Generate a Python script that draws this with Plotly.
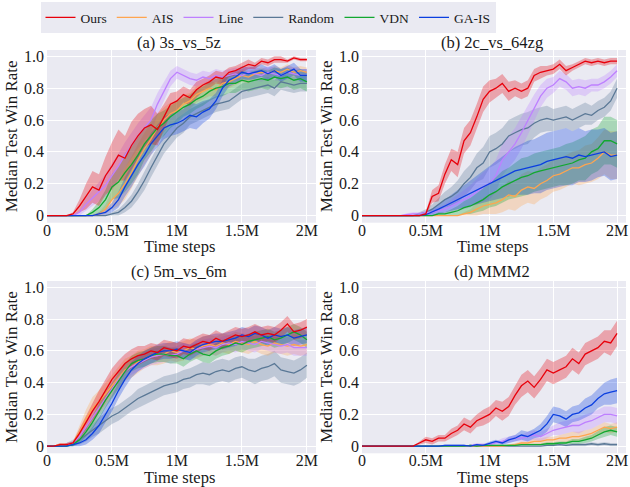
import plotly.graph_objects as go

# ---------------- data ----------------
STEPS_M = [0.0, 0.05, 0.1, 0.15, 0.2, 0.25, 0.3, 0.35, 0.4, 0.45,
           0.5, 0.55, 0.6, 0.65, 0.7, 0.75, 0.8, 0.85, 0.9, 0.95,
           1.0, 1.05, 1.1, 1.15, 1.2, 1.25, 1.3, 1.35, 1.4, 1.45,
           1.5, 1.55, 1.6, 1.65, 1.7, 1.75, 1.8, 1.85, 1.9, 1.95,
           2.0]

METHODS = ["Ours", "AIS", "Line", "Random", "VDN", "GA-IS"]
PANEL_TITLES = ["(a) 3s_vs_5z", "(b) 2c_vs_64zg", "(c) 5m_vs_6m", "(d) MMM2"]
X_TICK_VALS = [0, 0.5, 1, 1.5, 2]
X_TICK_TEXT = ["0", "0.5M", "1M", "1.5M", "2M"]
Y_TICK_VALS = [0, 0.2, 0.4, 0.6, 0.8, 1.0]
Y_TICK_TEXT = ["0", "0.2", "0.4", "0.6", "0.8", "1.0"]

# ---- (a) 3s_vs_5z ----
A_OURS = [0, 0, 0, 0, 0.01, 0.06, 0.12, 0.18, 0.16, 0.25,
          0.31, 0.38, 0.36, 0.44, 0.50, 0.55, 0.57, 0.54, 0.62, 0.70,
          0.72, 0.76, 0.74, 0.79, 0.82, 0.84, 0.87, 0.86, 0.90, 0.91,
          0.93, 0.95, 0.94, 0.97, 0.96, 0.98, 0.98, 0.97, 0.99, 0.98,
          0.98]
A_OURS_SD = [0, 0, 0, 0, 0.01, 0.04, 0.08, 0.10, 0.10, 0.12,
             0.15, 0.16, 0.14, 0.15, 0.14, 0.12, 0.12, 0.10, 0.08, 0.07,
             0.06, 0.05, 0.05, 0.05, 0.04, 0.04, 0.04, 0.04, 0.03, 0.03,
             0.03, 0.03, 0.02, 0.02, 0.02, 0.02, 0.02, 0.01, 0.01, 0.01,
             0.01]
A_AIS = [0, 0, 0, 0, 0, 0, 0, 0, 0.01, 0.04,
         0.10, 0.14, 0.20, 0.27, 0.35, 0.42, 0.48, 0.55, 0.60, 0.64,
         0.66, 0.70, 0.72, 0.76, 0.78, 0.80, 0.79, 0.83, 0.84, 0.86,
         0.88, 0.87, 0.89, 0.90, 0.89, 0.91, 0.90, 0.92, 0.90, 0.91,
         0.90]
A_AIS_SD = [0, 0, 0, 0, 0, 0, 0, 0, 0.01, 0.03,
            0.06, 0.08, 0.10, 0.10, 0.10, 0.10, 0.10, 0.09, 0.08, 0.07,
            0.06, 0.06, 0.05, 0.05, 0.05, 0.05, 0.04, 0.04, 0.04, 0.04,
            0.04, 0.04, 0.03, 0.03, 0.03, 0.03, 0.03, 0.03, 0.03, 0.03,
            0.03]
A_LINE = [0, 0, 0, 0, 0, 0.02, 0.07, 0.11, 0.15, 0.19,
          0.25, 0.31, 0.38, 0.44, 0.50, 0.55, 0.60, 0.70, 0.78, 0.86,
          0.90, 0.88, 0.86, 0.85, 0.87, 0.86, 0.88, 0.87, 0.88, 0.89,
          0.88, 0.90, 0.89, 0.88, 0.90, 0.89, 0.88, 0.90, 0.89, 0.88,
          0.88]
A_LINE_SD = [0, 0, 0, 0, 0, 0.02, 0.04, 0.05, 0.06, 0.07,
             0.08, 0.08, 0.08, 0.08, 0.08, 0.08, 0.08, 0.07, 0.06, 0.05,
             0.04, 0.04, 0.04, 0.04, 0.04, 0.04, 0.04, 0.04, 0.04, 0.04,
             0.04, 0.04, 0.04, 0.04, 0.04, 0.04, 0.04, 0.04, 0.04, 0.04,
             0.04]
A_RANDOM = [0, 0, 0, 0, 0, 0, 0, 0, 0, 0,
            0.01, 0.02, 0.05, 0.09, 0.15, 0.22, 0.30, 0.38, 0.45, 0.50,
            0.55, 0.58, 0.62, 0.64, 0.66, 0.68, 0.70, 0.71, 0.72, 0.75,
            0.78, 0.79, 0.80, 0.81, 0.82, 0.80, 0.84, 0.83, 0.82, 0.83,
            0.83]
A_RANDOM_SD = [0, 0, 0, 0, 0, 0, 0, 0, 0, 0,
               0.01, 0.02, 0.03, 0.04, 0.05, 0.06, 0.06, 0.06, 0.06, 0.06,
               0.06, 0.06, 0.05, 0.05, 0.05, 0.05, 0.05, 0.05, 0.05, 0.05,
               0.05, 0.05, 0.05, 0.05, 0.05, 0.05, 0.05, 0.05, 0.05, 0.05,
               0.05]
A_VDN = [0, 0, 0, 0, 0, 0, 0, 0.02, 0.05, 0.10,
         0.18, 0.21, 0.27, 0.32, 0.38, 0.45, 0.50, 0.55, 0.58, 0.62,
         0.65, 0.68, 0.70, 0.73, 0.75, 0.78, 0.80, 0.81, 0.83, 0.83,
         0.85, 0.84, 0.85, 0.86, 0.85, 0.87, 0.86, 0.87, 0.85, 0.86,
         0.84]
A_VDN_SD = [0, 0, 0, 0, 0, 0, 0, 0.02, 0.04, 0.06,
            0.08, 0.10, 0.12, 0.12, 0.12, 0.10, 0.10, 0.09, 0.08, 0.07,
            0.07, 0.06, 0.06, 0.06, 0.06, 0.06, 0.06, 0.06, 0.06, 0.06,
            0.06, 0.06, 0.06, 0.06, 0.06, 0.06, 0.06, 0.06, 0.06, 0.06,
            0.06]
A_GAIS = [0, 0, 0, 0, 0, 0, 0, 0, 0.01, 0.02,
          0.05, 0.10, 0.18, 0.25, 0.32, 0.38, 0.45, 0.50, 0.55, 0.57,
          0.58, 0.60, 0.63, 0.62, 0.65, 0.67, 0.72, 0.80, 0.85, 0.87,
          0.90, 0.89, 0.90, 0.91, 0.89, 0.91, 0.88, 0.90, 0.92, 0.88,
          0.88]
A_GAIS_SD = [0, 0, 0, 0, 0, 0, 0, 0, 0.01, 0.02,
             0.03, 0.05, 0.06, 0.07, 0.07, 0.07, 0.07, 0.07, 0.07, 0.07,
             0.07, 0.07, 0.08, 0.08, 0.07, 0.06, 0.05, 0.05, 0.04, 0.04,
             0.04, 0.04, 0.04, 0.04, 0.04, 0.04, 0.04, 0.04, 0.04, 0.04,
             0.04]

# ---- (b) 2c_vs_64zg ----
B_OURS = [0, 0, 0, 0, 0, 0, 0, 0, 0, 0,
          0.01, 0.12, 0.14, 0.26, 0.35, 0.32, 0.47, 0.52, 0.62, 0.73,
          0.78, 0.80, 0.83, 0.78, 0.80, 0.78, 0.80, 0.88, 0.90, 0.91,
          0.92, 0.95, 0.91, 0.93, 0.95, 0.97, 0.96, 0.97, 0.96, 0.97,
          0.97]
B_OURS_SD = [0, 0, 0, 0, 0, 0, 0, 0, 0, 0,
             0.01, 0.04, 0.05, 0.06, 0.07, 0.08, 0.08, 0.08, 0.08, 0.08,
             0.07, 0.06, 0.06, 0.06, 0.05, 0.05, 0.05, 0.04, 0.04, 0.03,
             0.03, 0.03, 0.03, 0.02, 0.02, 0.02, 0.02, 0.02, 0.02, 0.02,
             0.02]
B_AIS = [0, 0, 0, 0, 0, 0, 0, 0, 0, 0,
         0, 0, 0, 0, 0, 0, 0.01, 0.02, 0.04, 0.06,
         0.07, 0.08, 0.10, 0.13, 0.12, 0.16, 0.18, 0.17, 0.20, 0.22,
         0.25, 0.26, 0.28, 0.30, 0.30, 0.32, 0.33, 0.36, 0.40, 0.38,
         0.38]
B_AIS_SD = [0, 0, 0, 0, 0, 0, 0, 0, 0, 0,
            0, 0, 0, 0, 0, 0, 0.01, 0.02, 0.04, 0.05,
            0.06, 0.07, 0.08, 0.09, 0.09, 0.10, 0.10, 0.10, 0.10, 0.10,
            0.10, 0.10, 0.10, 0.10, 0.11, 0.12, 0.12, 0.13, 0.14, 0.15,
            0.15]
B_LINE = [0, 0, 0, 0, 0, 0, 0, 0.005, 0.01, 0.01,
          0.02, 0.02, 0.03, 0.04, 0.06, 0.08, 0.10, 0.12, 0.15, 0.18,
          0.20, 0.25, 0.35, 0.40, 0.45, 0.52, 0.60, 0.68, 0.75, 0.80,
          0.82, 0.86, 0.84, 0.80, 0.81, 0.80, 0.82, 0.82, 0.84, 0.87,
          0.91]
B_LINE_SD = [0, 0, 0, 0, 0, 0, 0, 0.01, 0.01, 0.01,
             0.01, 0.02, 0.02, 0.03, 0.04, 0.05, 0.06, 0.07, 0.08, 0.09,
             0.10, 0.10, 0.10, 0.10, 0.10, 0.10, 0.09, 0.08, 0.07, 0.06,
             0.05, 0.05, 0.05, 0.05, 0.05, 0.05, 0.04, 0.04, 0.04, 0.04,
             0.04]
B_RANDOM = [0, 0, 0, 0, 0, 0, 0, 0, 0, 0.01,
            0.02, 0.04, 0.07, 0.10, 0.12, 0.15, 0.20, 0.24, 0.30, 0.33,
            0.40, 0.42, 0.45, 0.50, 0.52, 0.54, 0.55, 0.58, 0.60, 0.61,
            0.60, 0.61, 0.62, 0.60, 0.62, 0.64, 0.63, 0.66, 0.68, 0.72,
            0.80]
B_RANDOM_SD = [0, 0, 0, 0, 0, 0, 0, 0, 0, 0.01,
               0.02, 0.03, 0.04, 0.05, 0.06, 0.07, 0.08, 0.08, 0.09, 0.10,
               0.10, 0.10, 0.10, 0.10, 0.10, 0.10, 0.10, 0.09, 0.08, 0.08,
               0.07, 0.07, 0.07, 0.07, 0.07, 0.07, 0.06, 0.06, 0.06, 0.06,
               0.06]
B_VDN = [0, 0, 0, 0, 0, 0, 0, 0, 0, 0,
         0, 0, 0.01, 0.01, 0.02, 0.03, 0.05, 0.06, 0.08, 0.10,
         0.13, 0.15, 0.18, 0.20, 0.22, 0.24, 0.25, 0.27, 0.28, 0.29,
         0.30, 0.31, 0.32, 0.33, 0.35, 0.36, 0.40, 0.42, 0.47, 0.47,
         0.45]
B_VDN_SD = [0, 0, 0, 0, 0, 0, 0, 0, 0, 0,
            0, 0, 0.01, 0.01, 0.02, 0.03, 0.04, 0.05, 0.06, 0.07,
            0.08, 0.09, 0.10, 0.10, 0.11, 0.12, 0.12, 0.12, 0.12, 0.12,
            0.12, 0.12, 0.13, 0.13, 0.13, 0.14, 0.14, 0.14, 0.15, 0.15,
            0.15]
B_GAIS = [0, 0, 0, 0, 0, 0, 0, 0, 0, 0,
          0.005, 0.02, 0.04, 0.06, 0.08, 0.10, 0.12, 0.14, 0.16, 0.18,
          0.20, 0.22, 0.24, 0.26, 0.28, 0.29, 0.30, 0.31, 0.32, 0.34,
          0.35, 0.36, 0.37, 0.36, 0.38, 0.37, 0.38, 0.39, 0.40, 0.37,
          0.38]
B_GAIS_SD = [0, 0, 0, 0, 0, 0, 0, 0, 0, 0,
             0.005, 0.02, 0.03, 0.04, 0.05, 0.06, 0.07, 0.08, 0.09, 0.10,
             0.11, 0.12, 0.13, 0.14, 0.15, 0.16, 0.17, 0.17, 0.18, 0.18,
             0.18, 0.18, 0.18, 0.17, 0.17, 0.16, 0.16, 0.15, 0.15, 0.15,
             0.15]

# ---- (c) 5m_vs_6m ----
C_OURS = [0, 0, 0.01, 0.01, 0.02, 0.08, 0.15, 0.22, 0.28, 0.35,
          0.42, 0.47, 0.52, 0.55, 0.57, 0.58, 0.60, 0.59, 0.62, 0.61,
          0.60, 0.63, 0.62, 0.64, 0.66, 0.65, 0.68, 0.66, 0.68, 0.70,
          0.69, 0.70, 0.72, 0.70, 0.71, 0.70, 0.73, 0.77, 0.72, 0.73,
          0.75]
C_OURS_SD = [0, 0, 0.01, 0.01, 0.01, 0.03, 0.05, 0.06, 0.07, 0.07,
             0.07, 0.07, 0.06, 0.06, 0.06, 0.05, 0.05, 0.05, 0.05, 0.05,
             0.05, 0.05, 0.05, 0.05, 0.05, 0.05, 0.05, 0.05, 0.05, 0.05,
             0.05, 0.05, 0.05, 0.05, 0.05, 0.05, 0.05, 0.05, 0.05, 0.05,
             0.05]
C_AIS = [0, 0, 0.01, 0.01, 0.02, 0.09, 0.17, 0.24, 0.28, 0.33,
         0.38, 0.43, 0.48, 0.50, 0.53, 0.55, 0.57, 0.57, 0.58, 0.60,
         0.59, 0.60, 0.62, 0.61, 0.63, 0.64, 0.63, 0.65, 0.64, 0.66,
         0.65, 0.64, 0.66, 0.64, 0.63, 0.65, 0.64, 0.63, 0.64, 0.63,
         0.64]
C_AIS_SD = [0, 0, 0.01, 0.01, 0.01, 0.04, 0.06, 0.07, 0.07, 0.07,
            0.07, 0.07, 0.07, 0.07, 0.07, 0.06, 0.06, 0.06, 0.06, 0.06,
            0.06, 0.06, 0.06, 0.06, 0.06, 0.06, 0.06, 0.06, 0.06, 0.06,
            0.06, 0.06, 0.06, 0.06, 0.06, 0.06, 0.06, 0.06, 0.06, 0.06,
            0.06]
C_LINE = [0, 0, 0, 0.01, 0.02, 0.06, 0.12, 0.18, 0.24, 0.30,
          0.36, 0.42, 0.47, 0.50, 0.52, 0.54, 0.56, 0.57, 0.58, 0.57,
          0.58, 0.60, 0.59, 0.61, 0.62, 0.63, 0.62, 0.64, 0.65, 0.64,
          0.66, 0.65, 0.64, 0.66, 0.65, 0.64, 0.63, 0.64, 0.62, 0.62,
          0.62]
C_LINE_SD = [0, 0, 0, 0.01, 0.01, 0.03, 0.04, 0.05, 0.05, 0.05,
             0.05, 0.05, 0.05, 0.05, 0.05, 0.05, 0.05, 0.05, 0.05, 0.05,
             0.05, 0.05, 0.05, 0.05, 0.05, 0.05, 0.05, 0.05, 0.05, 0.05,
             0.05, 0.05, 0.05, 0.05, 0.05, 0.05, 0.05, 0.05, 0.05, 0.05,
             0.05]
C_RANDOM = [0, 0, 0, 0.01, 0.02, 0.04, 0.07, 0.10, 0.13, 0.16,
            0.19, 0.21, 0.24, 0.27, 0.30, 0.32, 0.34, 0.36, 0.38, 0.39,
            0.40, 0.42, 0.43, 0.45, 0.46, 0.45, 0.47, 0.48, 0.47, 0.49,
            0.50, 0.48, 0.47, 0.49, 0.50, 0.52, 0.48, 0.47, 0.46, 0.48,
            0.51]
C_RANDOM_SD = [0, 0, 0, 0.01, 0.02, 0.03, 0.04, 0.04, 0.05, 0.05,
               0.05, 0.05, 0.05, 0.05, 0.06, 0.06, 0.06, 0.06, 0.06, 0.06,
               0.06, 0.06, 0.06, 0.06, 0.07, 0.07, 0.07, 0.07, 0.07, 0.07,
               0.07, 0.07, 0.08, 0.08, 0.08, 0.08, 0.08, 0.08, 0.08, 0.08,
               0.08]
C_VDN = [0, 0, 0, 0, 0.01, 0.04, 0.09, 0.15, 0.22, 0.29,
         0.35, 0.41, 0.47, 0.52, 0.54, 0.55, 0.57, 0.58, 0.58, 0.57,
         0.57, 0.55, 0.58, 0.60, 0.58, 0.57, 0.60, 0.62, 0.63, 0.65,
         0.64, 0.66, 0.67, 0.68, 0.69, 0.67, 0.68, 0.70, 0.72, 0.70,
         0.67]
C_VDN_SD = [0, 0, 0, 0, 0.01, 0.02, 0.03, 0.04, 0.05, 0.05,
            0.05, 0.05, 0.05, 0.05, 0.05, 0.05, 0.05, 0.05, 0.05, 0.05,
            0.05, 0.05, 0.05, 0.05, 0.05, 0.05, 0.05, 0.05, 0.05, 0.05,
            0.05, 0.05, 0.05, 0.05, 0.05, 0.05, 0.05, 0.05, 0.05, 0.05,
            0.05]
C_GAIS = [0, 0, 0, 0, 0.01, 0.02, 0.04, 0.08, 0.13, 0.20,
          0.27, 0.35, 0.42, 0.48, 0.52, 0.55, 0.57, 0.59, 0.60, 0.60,
          0.61, 0.60, 0.59, 0.62, 0.64, 0.65, 0.66, 0.66, 0.67, 0.68,
          0.70, 0.69, 0.71, 0.70, 0.68, 0.70, 0.69, 0.70, 0.68, 0.69,
          0.70]
C_GAIS_SD = [0, 0, 0, 0, 0.01, 0.02, 0.03, 0.04, 0.05, 0.05,
             0.05, 0.05, 0.05, 0.05, 0.05, 0.05, 0.05, 0.05, 0.05, 0.05,
             0.05, 0.05, 0.05, 0.05, 0.05, 0.05, 0.05, 0.05, 0.05, 0.05,
             0.05, 0.05, 0.05, 0.05, 0.05, 0.05, 0.05, 0.05, 0.05, 0.05,
             0.05]

# ---- (d) MMM2 ----
D_OURS = [0, 0, 0, 0, 0, 0, 0, 0, 0, 0.02,
          0.04, 0.03, 0.05, 0.05, 0.08, 0.10, 0.14, 0.12, 0.16, 0.18,
          0.20, 0.24, 0.22, 0.25, 0.32, 0.38, 0.41, 0.37, 0.42, 0.48,
          0.46, 0.48, 0.50, 0.55, 0.52, 0.58, 0.60, 0.62, 0.66, 0.65,
          0.71]
D_OURS_SD = [0, 0, 0, 0, 0, 0, 0, 0, 0, 0.01,
             0.02, 0.02, 0.02, 0.02, 0.03, 0.03, 0.04, 0.04, 0.04, 0.05,
             0.05, 0.05, 0.06, 0.06, 0.06, 0.07, 0.07, 0.07, 0.07, 0.07,
             0.07, 0.07, 0.07, 0.07, 0.07, 0.07, 0.07, 0.07, 0.07, 0.08,
             0.08]
D_AIS = [0, 0, 0, 0, 0, 0, 0, 0, 0, 0,
         0, 0, 0, 0, 0, 0, 0, 0, 0, 0,
         0, 0, 0, 0.005, 0.01, 0.02, 0.02, 0.03, 0.03, 0.04,
         0.04, 0.05, 0.05, 0.06, 0.06, 0.07, 0.08, 0.10, 0.12, 0.11,
         0.12]
D_AIS_SD = [0, 0, 0, 0, 0, 0, 0, 0, 0, 0,
            0, 0, 0, 0, 0, 0, 0, 0, 0, 0,
            0, 0, 0, 0.005, 0.01, 0.01, 0.01, 0.02, 0.02, 0.02,
            0.02, 0.02, 0.03, 0.03, 0.03, 0.03, 0.03, 0.03, 0.03, 0.03,
            0.03]
D_LINE = [0, 0, 0, 0, 0, 0, 0, 0, 0, 0,
          0, 0, 0, 0, 0, 0, 0, 0.005, 0.01, 0.01,
          0.01, 0.02, 0.03, 0.04, 0.05, 0.05, 0.06, 0.07, 0.06, 0.08,
          0.10, 0.11, 0.12, 0.13, 0.13, 0.15, 0.16, 0.18, 0.20, 0.20,
          0.19]
D_LINE_SD = [0, 0, 0, 0, 0, 0, 0, 0, 0, 0,
             0, 0, 0, 0, 0, 0, 0, 0.005, 0.01, 0.01,
             0.01, 0.01, 0.02, 0.02, 0.02, 0.02, 0.03, 0.03, 0.03, 0.03,
             0.03, 0.04, 0.04, 0.04, 0.05, 0.05, 0.05, 0.05, 0.05, 0.05,
             0.05]
D_RANDOM = [0, 0, 0, 0, 0, 0, 0, 0, 0, 0,
            0, 0, 0, 0, 0, 0, 0, 0, 0, 0,
            0, 0, 0, 0, 0, 0, 0, 0, 0, 0.005,
            0.005, 0.01, 0.005, 0.01, 0.01, 0.01, 0.015, 0.01, 0.015, 0.01,
            0.01]
D_RANDOM_SD = [0, 0, 0, 0, 0, 0, 0, 0, 0, 0,
               0, 0, 0, 0, 0, 0, 0, 0, 0, 0,
               0, 0, 0, 0, 0, 0, 0, 0, 0, 0.005,
               0.005, 0.005, 0.005, 0.01, 0.01, 0.01, 0.01, 0.01, 0.01, 0.01,
               0.01]
D_VDN = [0, 0, 0, 0, 0, 0, 0, 0, 0, 0,
         0, 0, 0, 0, 0, 0, 0, 0.005, 0, 0.005,
         0.005, 0.005, 0.005, 0.005, 0.005, 0.01, 0.01, 0.01, 0.01, 0.015,
         0.015, 0.02, 0.02, 0.03, 0.03, 0.04, 0.05, 0.07, 0.09, 0.10,
         0.09]
D_VDN_SD = [0, 0, 0, 0, 0, 0, 0, 0, 0, 0,
            0, 0, 0, 0, 0, 0, 0, 0.005, 0, 0.005,
            0.005, 0.005, 0.005, 0.005, 0.005, 0.005, 0.005, 0.005, 0.005, 0.01,
            0.01, 0.01, 0.01, 0.015, 0.015, 0.02, 0.02, 0.025, 0.03, 0.03,
            0.03]
D_GAIS = [0, 0, 0, 0, 0, 0, 0, 0, 0, 0,
          0, 0, 0, 0.005, 0.005, 0.005, 0.005, 0, 0.01, 0.005,
          0.02, 0.03, 0.02, 0.04, 0.05, 0.07, 0.06, 0.08, 0.10, 0.14,
          0.20, 0.19, 0.17, 0.20, 0.21, 0.24, 0.26, 0.30, 0.33, 0.34,
          0.35]
D_GAIS_SD = [0, 0, 0, 0, 0, 0, 0, 0, 0, 0,
             0, 0, 0, 0.005, 0.005, 0.005, 0.005, 0, 0.005, 0.005,
             0.01, 0.01, 0.01, 0.02, 0.02, 0.03, 0.03, 0.03, 0.04, 0.05,
             0.05, 0.05, 0.05, 0.05, 0.05, 0.06, 0.06, 0.06, 0.07, 0.08,
             0.08]

# ---------------- styling ----------------
COLORS = {
    "Ours": (232, 0, 11),
    "AIS": (255, 165, 79),
    "Line": (190, 128, 255),
    "Random": (90, 120, 150),
    "VDN": (18, 168, 48),
    "GA-IS": (11, 63, 224),
}
SERIF = "Liberation Serif"
TXT = "#1a1a1a"
BG = "#eaeaf2"

PANELS = [
    {"Ours": (A_OURS, A_OURS_SD), "AIS": (A_AIS, A_AIS_SD), "Line": (A_LINE, A_LINE_SD),
     "Random": (A_RANDOM, A_RANDOM_SD), "VDN": (A_VDN, A_VDN_SD), "GA-IS": (A_GAIS, A_GAIS_SD)},
    {"Ours": (B_OURS, B_OURS_SD), "AIS": (B_AIS, B_AIS_SD), "Line": (B_LINE, B_LINE_SD),
     "Random": (B_RANDOM, B_RANDOM_SD), "VDN": (B_VDN, B_VDN_SD), "GA-IS": (B_GAIS, B_GAIS_SD)},
    {"Ours": (C_OURS, C_OURS_SD), "AIS": (C_AIS, C_AIS_SD), "Line": (C_LINE, C_LINE_SD),
     "Random": (C_RANDOM, C_RANDOM_SD), "VDN": (C_VDN, C_VDN_SD), "GA-IS": (C_GAIS, C_GAIS_SD)},
    {"Ours": (D_OURS, D_OURS_SD), "AIS": (D_AIS, D_AIS_SD), "Line": (D_LINE, D_LINE_SD),
     "Random": (D_RANDOM, D_RANDOM_SD), "VDN": (D_VDN, D_VDN_SD), "GA-IS": (D_GAIS, D_GAIS_SD)},
]

DRAW_ORDER = ["Random", "AIS", "Line", "VDN", "GA-IS", "Ours"]

W, H = 630, 487
X_RANGE = [0, 2.07]
X_DOMAINS = [(47 / W, 316 / W), (362 / W, 626 / W), (47 / W, 316 / W), (362 / W, 626 / W)]
Y_DOMAINS = [(1 - 222.7 / H, 1 - 50 / H), (1 - 222.7 / H, 1 - 50 / H),
             (1 - 453.3 / H, 1 - 281 / H), (1 - 453.3 / H, 1 - 281 / H)]

fig = go.Figure()

for p, panel in enumerate(PANELS):
    xa = "x" if p == 0 else f"x{p + 1}"
    ya = "y" if p == 0 else f"y{p + 1}"
    for m in DRAW_ORDER:
        mean, sd = panel[m]
        r, g, b = COLORS[m]
        upper = [round(v + s, 4) for v, s in zip(mean, sd)]
        lower = [round(v - s, 4) for v, s in zip(mean, sd)]
        fig.add_trace(go.Scatter(x=STEPS_M, y=upper, xaxis=xa, yaxis=ya, mode="lines",
                                 line=dict(width=0, color=f"rgba({r},{g},{b},0)"),
                                 showlegend=False, hoverinfo="skip"))
        fig.add_trace(go.Scatter(x=STEPS_M, y=lower, xaxis=xa, yaxis=ya, mode="lines",
                                 line=dict(width=0, color=f"rgba({r},{g},{b},0)"),
                                 fill="tonexty", fillcolor=f"rgba({r},{g},{b},0.3)",
                                 showlegend=False, hoverinfo="skip"))
    for m in DRAW_ORDER:
        mean, _ = panel[m]
        r, g, b = COLORS[m]
        fig.add_trace(go.Scatter(x=STEPS_M, y=mean, xaxis=xa, yaxis=ya, mode="lines",
                                 name=m, line=dict(width=1.3, color=f"rgb({r},{g},{b})"),
                                 showlegend=(p == 0), legendrank=METHODS.index(m) + 1))

layout = dict(
    width=W, height=H,
    margin=dict(l=0, r=0, t=0, b=0),
    paper_bgcolor="white",
    plot_bgcolor=BG,
    template="none",
    font=dict(family=SERIF, color=TXT, size=15),
    showlegend=True,
    legend=dict(orientation="h", x=268 / W, xanchor="center", y=1 - 2 / H, yanchor="top",
                bgcolor=BG, font=dict(family=SERIF, size=13.5, color=TXT),
                borderwidth=0, itemwidth=30, traceorder="normal", tracegroupgap=0),
)

annotations = []
for p in range(4):
    xk = "xaxis" if p == 0 else f"xaxis{p + 1}"
    yk = "yaxis" if p == 0 else f"yaxis{p + 1}"
    xa = "x" if p == 0 else f"x{p + 1}"
    ya = "y" if p == 0 else f"y{p + 1}"
    layout[xk] = dict(domain=list(X_DOMAINS[p]), anchor=ya, range=X_RANGE,
                      tickmode="array", tickvals=X_TICK_VALS, ticktext=X_TICK_TEXT,
                      showgrid=True, gridcolor="white", gridwidth=1.2, zeroline=False,
                      showline=False, ticks="", ticklen=0, automargin=False,
                      ticklabelstandoff=-4, ticklabeloverflow="allow",
                      tickfont=dict(family=SERIF, size=16, color=TXT))
    layout[yk] = dict(domain=list(Y_DOMAINS[p]), anchor=xa, range=[-0.045, 1.04],
                      tickmode="array", tickvals=Y_TICK_VALS, ticktext=Y_TICK_TEXT,
                      showgrid=True, gridcolor="white", gridwidth=1.2, zeroline=False,
                      showline=False, ticks="", ticklen=0, automargin=False,
                      ticklabelstandoff=2, ticklabeloverflow="allow",
                      tickfont=dict(family=SERIF, size=16, color=TXT),
                      title=dict(text="Median Test Win Rate", standoff=2,
                                 font=dict(family=SERIF, size=17, color=TXT)))
    cx = 179 / W if p % 2 == 0 else 492 / W
    ty = 1 - 42 / H if p < 2 else 1 - 271 / H
    annotations.append(dict(text=PANEL_TITLES[p], x=cx, y=ty, xref="paper", yref="paper",
                            showarrow=False, xanchor="center", yanchor="middle",
                            font=dict(family=SERIF, size=16.5, color=TXT)))
    xy = 1 - 246 / H if p < 2 else 1 - 477.5 / H
    annotations.append(dict(text="Time steps", x=cx, y=xy, xref="paper", yref="paper",
                            showarrow=False, xanchor="center", yanchor="middle",
                            font=dict(family=SERIF, size=16.5, color=TXT)))

layout["annotations"] = annotations
fig.update_layout(**layout)

fig.write_html("out.html", config={"displayModeBar": False},
               post_script="document.body.style.margin='0px';document.body.style.padding='0px';")
